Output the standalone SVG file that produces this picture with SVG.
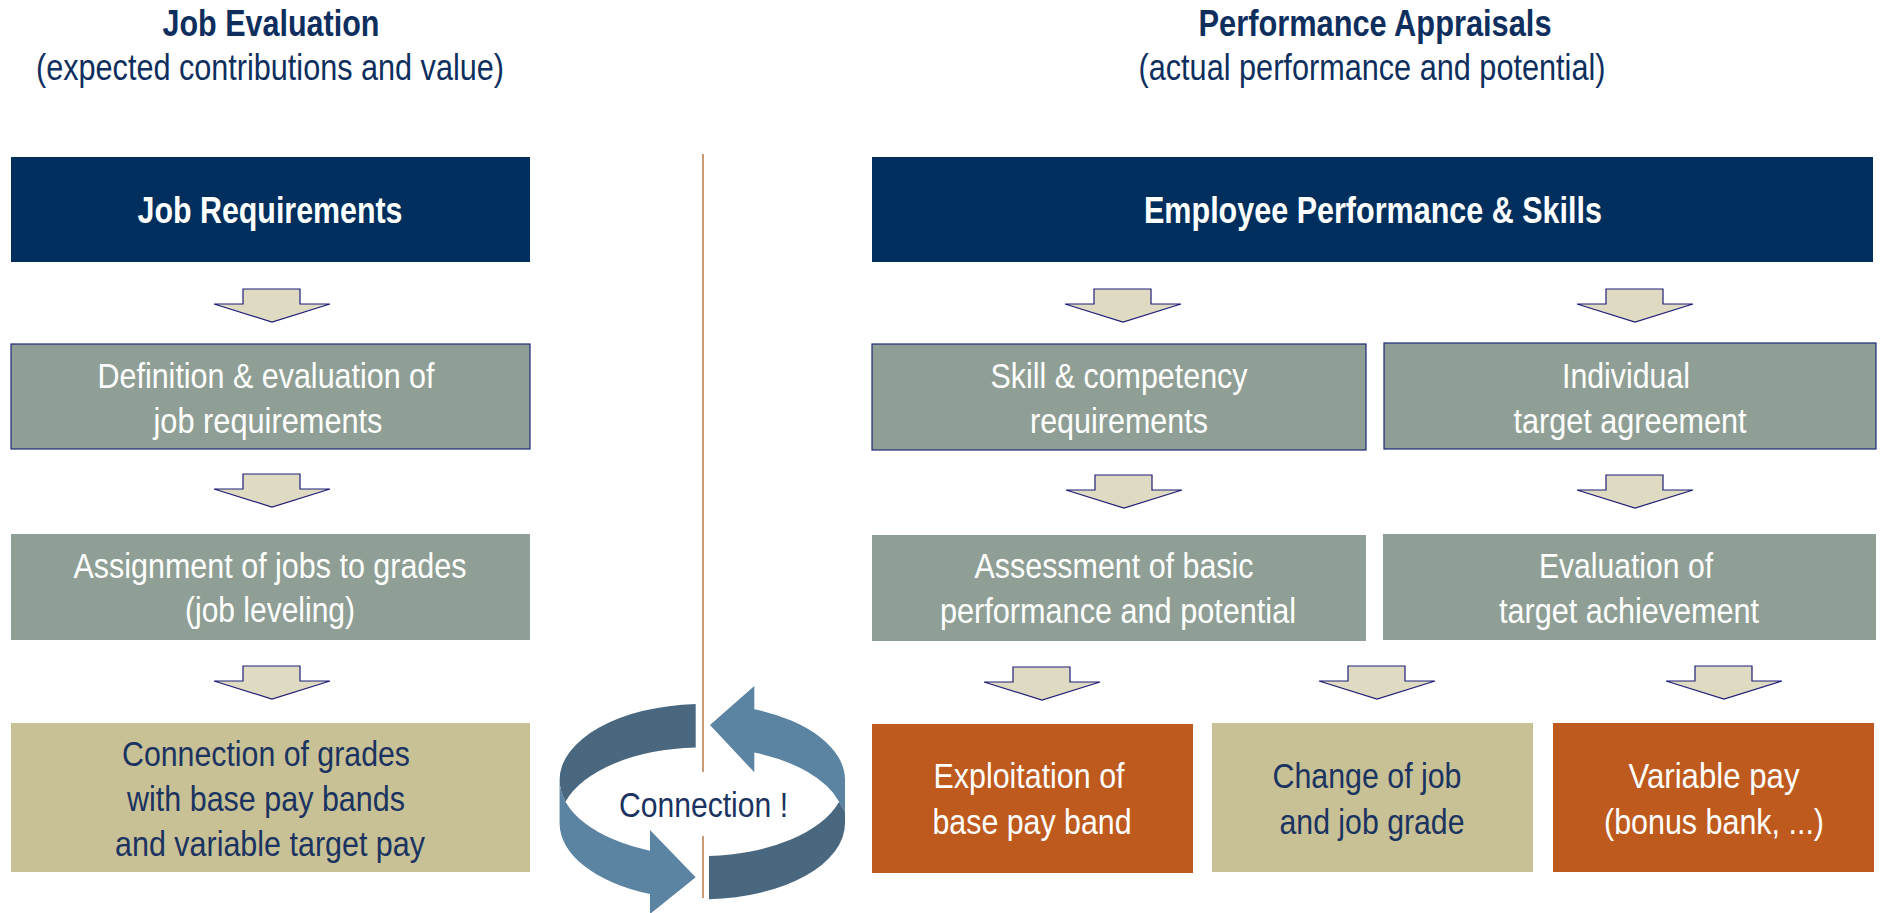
<svg xmlns="http://www.w3.org/2000/svg" width="1883" height="913" viewBox="0 0 1883 913">
<style>
text{font-family:"Liberation Sans Narrow","Liberation Sans",Arial,sans-serif;text-anchor:middle}
.ttl{font-size:36px;font-weight:bold;fill:#0E2F5E}
.sub{font-size:36px;fill:#0E2F5E}
.hdr{fill:#002F5E}
.hdt{font-size:36px;font-weight:bold;fill:#FFFFFF}
.gray{fill:#8F9F95}
.bord{stroke:#1C2A78;stroke-width:1.2}
.tan{fill:#C8C196}
.rust{fill:#BE5A1E}
.wt{font-size:35px;fill:#FFFFFF}
.nt{font-size:35px;fill:#1B3360}
.arr{fill:#DEDBC2;stroke:#1E1E78;stroke-width:1.2}
.sep{stroke:#C89B74;stroke-width:2}
.dk{fill:#49687F}
.lt{fill:#5B83A2}
</style>
<defs>
<path id="dArrow" d="M29 0H86V15H116L58 33L0 15H29Z"/>
</defs>

<g id="titles">
<text class="ttl" x="271" y="36" textLength="217" lengthAdjust="spacingAndGlyphs">Job Evaluation</text>
<text class="sub" x="270" y="80" textLength="468" lengthAdjust="spacingAndGlyphs">(expected contributions and value)</text>
<text class="ttl" x="1375" y="36" textLength="353" lengthAdjust="spacingAndGlyphs">Performance Appraisals</text>
<text class="sub" x="1372" y="80" textLength="467" lengthAdjust="spacingAndGlyphs">(actual performance and potential)</text>
</g>

<g id="connectors">
<line class="sep" x1="703" y1="154" x2="703" y2="772"/>
<line class="sep" x1="703" y1="836" x2="703" y2="898"/>
<use href="#dArrow" class="arr" x="214" y="289"/>
<use href="#dArrow" class="arr" x="214" y="474"/>
<use href="#dArrow" class="arr" x="214" y="666"/>
<use href="#dArrow" class="arr" x="1065" y="289"/>
<use href="#dArrow" class="arr" x="1577" y="289"/>
<use href="#dArrow" class="arr" x="1066" y="475"/>
<use href="#dArrow" class="arr" x="1577" y="475"/>
<use href="#dArrow" class="arr" x="984" y="667"/>
<use href="#dArrow" class="arr" x="1319" y="666"/>
<use href="#dArrow" class="arr" x="1666" y="666"/>
</g>

<g id="node-job-requirements">
<rect class="hdr" x="11" y="157" width="519" height="105"/>
<text class="hdt" x="270" y="223" textLength="265" lengthAdjust="spacingAndGlyphs">Job Requirements</text>
</g>
<g id="node-employee-performance">
<rect class="hdr" x="872" y="157" width="1001" height="105"/>
<text class="hdt" x="1373" y="223" textLength="458" lengthAdjust="spacingAndGlyphs">Employee Performance &amp; Skills</text>
</g>

<g id="node-definition">
<rect class="gray bord" x="11" y="344" width="519" height="105"/>
<text class="wt" x="266" y="388" textLength="337" lengthAdjust="spacingAndGlyphs">Definition &amp; evaluation of</text>
<text class="wt" x="268" y="433" textLength="229" lengthAdjust="spacingAndGlyphs">job requirements</text>
</g>
<g id="node-assignment">
<rect class="gray" x="11" y="534" width="519" height="106"/>
<text class="wt" x="270" y="578" textLength="393" lengthAdjust="spacingAndGlyphs">Assignment of jobs to grades</text>
<text class="wt" x="270" y="622" textLength="170" lengthAdjust="spacingAndGlyphs">(job leveling)</text>
</g>
<g id="node-connection-grades">
<rect class="tan" x="11" y="723" width="519" height="149"/>
<text class="nt" x="266" y="766" textLength="288" lengthAdjust="spacingAndGlyphs">Connection of grades</text>
<text class="nt" x="266" y="811" textLength="278" lengthAdjust="spacingAndGlyphs">with base pay bands</text>
<text class="nt" x="270" y="856" textLength="310" lengthAdjust="spacingAndGlyphs">and variable target pay</text>
</g>

<g id="node-skill">
<rect class="gray bord" x="872" y="344" width="494" height="106"/>
<text class="wt" x="1119" y="388" textLength="257" lengthAdjust="spacingAndGlyphs">Skill &amp; competency</text>
<text class="wt" x="1119" y="433" textLength="178" lengthAdjust="spacingAndGlyphs">requirements</text>
</g>
<g id="node-individual">
<rect class="gray bord" x="1384" y="343" width="492" height="106"/>
<text class="wt" x="1626" y="388" textLength="128" lengthAdjust="spacingAndGlyphs">Individual</text>
<text class="wt" x="1630" y="433" textLength="233" lengthAdjust="spacingAndGlyphs">target agreement</text>
</g>
<g id="node-assessment">
<rect class="gray" x="872" y="535" width="494" height="106"/>
<text class="wt" x="1114" y="578" textLength="279" lengthAdjust="spacingAndGlyphs">Assessment of basic</text>
<text class="wt" x="1118" y="623" textLength="356" lengthAdjust="spacingAndGlyphs">performance and potential</text>
</g>
<g id="node-evaluation">
<rect class="gray" x="1383" y="534" width="493" height="106"/>
<text class="wt" x="1626" y="578" textLength="174" lengthAdjust="spacingAndGlyphs">Evaluation of</text>
<text class="wt" x="1629" y="623" textLength="260" lengthAdjust="spacingAndGlyphs">target achievement</text>
</g>
<g id="node-exploitation">
<rect class="rust" x="872" y="724" width="321" height="149"/>
<text class="wt" x="1029" y="788" textLength="191" lengthAdjust="spacingAndGlyphs">Exploitation of</text>
<text class="wt" x="1032" y="834" textLength="199" lengthAdjust="spacingAndGlyphs">base pay band</text>
</g>
<g id="node-change">
<rect class="tan" x="1212" y="723" width="321" height="149"/>
<text class="nt" x="1367" y="788" textLength="189" lengthAdjust="spacingAndGlyphs">Change of job</text>
<text class="nt" x="1372" y="834" textLength="185" lengthAdjust="spacingAndGlyphs">and job grade</text>
</g>
<g id="node-variable">
<rect class="rust" x="1553" y="723" width="321" height="149"/>
<text class="wt" x="1714" y="788" textLength="171" lengthAdjust="spacingAndGlyphs">Variable pay</text>
<text class="wt" x="1714" y="834" textLength="220" lengthAdjust="spacingAndGlyphs">(bonus bank, ...)</text>
</g>

<g id="node-connection-cycle">
<path class="dk" d="M695.7 704.1A142.7 76 0 0 0 559.6 780A142.7 76 0 0 0 565.5 801.7A142.7 76 0 0 1 695.7 747.4Z"/>
<path class="lt" d="M559.6 780L559.6 823.3A142.7 76 0 0 0 650 894L650 914L695.7 877.3L650 830L650 850.7A142.7 76 0 0 1 559.6 780Z"/>
<path class="lt" d="M754.3 709.2A142.7 76 0 0 1 845 780L845 812L839.1 801.7A142.7 76 0 0 0 754.3 752.5L754.3 772.3L710 725L754.3 686Z"/>
<path class="dk" d="M709 855.9A142.7 76 0 0 0 839.1 801.7L845 812L845 823.3A142.7 76 0 0 1 709 899.2Z"/>
<text class="nt" x="703.5" y="817" textLength="169" lengthAdjust="spacingAndGlyphs">Connection !</text>
</g>
</svg>
